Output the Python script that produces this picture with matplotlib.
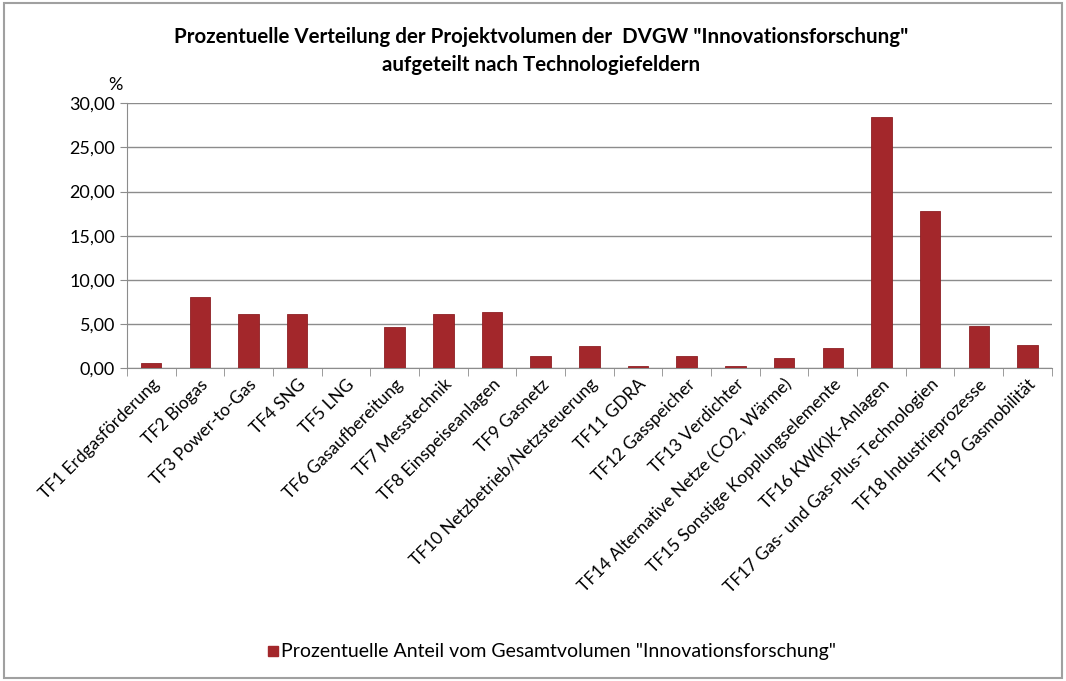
import matplotlib
matplotlib.use("Agg")
import matplotlib.pyplot as plt
from matplotlib.ticker import FuncFormatter, MultipleLocator, FixedLocator
from matplotlib.patches import Rectangle

# Technologiefelder und Anteile in %
kategorien = ["TF1 Erdgasförderung", "TF2 Biogas", "TF3 Power-to-Gas", "TF4 SNG",
              "TF5 LNG", "TF6 Gasaufbereitung", "TF7 Messtechnik", "TF8 Einspeiseanlagen",
              "TF9 Gasnetz", "TF10 Netzbetrieb/Netzsteuerung", "TF11 GDRA",
              "TF12 Gasspeicher", "TF13 Verdichter", "TF14 Alternative Netze (CO2, Wärme)",
              "TF15 Sonstige Kopplungselemente", "TF16 KW(K)K-Anlagen",
              "TF17 Gas- und Gas-Plus-Technologien", "TF18 Industrieprozesse",
              "TF19 Gasmobilität"]
anteile = [0.6, 8.0, 6.12, 6.12, 0.0, 4.68, 6.12, 6.3, 1.36, 2.53, 0.23,
           1.36, 0.2, 1.17, 2.3, 28.5, 17.8, 4.76, 2.6]

titel = 'Prozentuelle Verteilung der Projektvolumen der  DVGW "Innovationsforschung"\naufgeteilt nach Technologiefeldern'
legende = 'Prozentuelle Anteil vom Gesamtvolumen "Innovationsforschung"'

plt.rcParams['font.family'] = ['Lato', 'DejaVu Sans']

fig = plt.figure(figsize=(10.66, 6.81), dpi=100)
fig.patches.append(Rectangle((0.004, 0.004), 0.992, 0.992, transform=fig.transFigure,
                             fill=False, edgecolor='#a0a0a0', linewidth=1.5))
ax = fig.add_axes([0.119, 0.4596, 0.8677, 0.3887])

x = range(len(kategorien))
ax.bar(x, anteile, width=0.42, color='#A3272B', edgecolor='#8e2024', linewidth=0.6, zorder=3)

ax.set_xlim(-0.5, len(kategorien) - 0.5)
ax.set_ylim(0, 30)
ax.yaxis.set_major_locator(MultipleLocator(5))
ax.yaxis.set_major_formatter(FuncFormatter(lambda v, p: f"{v:.2f}".replace(".", ",")))
ax.grid(axis='y', color='#8c8c8c', linewidth=1.0, zorder=0)

ax.set_xticks(list(x))
ax.set_xticklabels(kategorien, rotation=45, ha='right', rotation_mode='anchor', fontsize=12.5)
ax.tick_params(axis='x', length=0, pad=6)
ax.xaxis.set_minor_locator(FixedLocator([i - 0.5 for i in range(len(kategorien) + 1)]))
ax.tick_params(axis='x', which='minor', length=6, color='#8c8c8c')
ax.tick_params(axis='y', length=5, color='#8c8c8c', labelsize=13)

for s in ['top', 'right']:
    ax.spines[s].set_visible(False)
ax.spines['left'].set_color('#8c8c8c')
ax.spines['bottom'].set_color('#8c8c8c')

fig.text(0.508, 0.925, titel, ha='center', va='center', fontsize=14.8,
         fontweight='bold', linespacing=1.45)
fig.text(0.108, 0.875, '%', ha='center', va='center', fontsize=13)

fig.patches.append(Rectangle((0.2515, 0.036), 0.009, 0.016, transform=fig.transFigure,
                             color='#A3272B'))
fig.text(0.264, 0.043, legende, ha='left', va='center', fontsize=14)

fig.savefig('out.png', dpi=100)
